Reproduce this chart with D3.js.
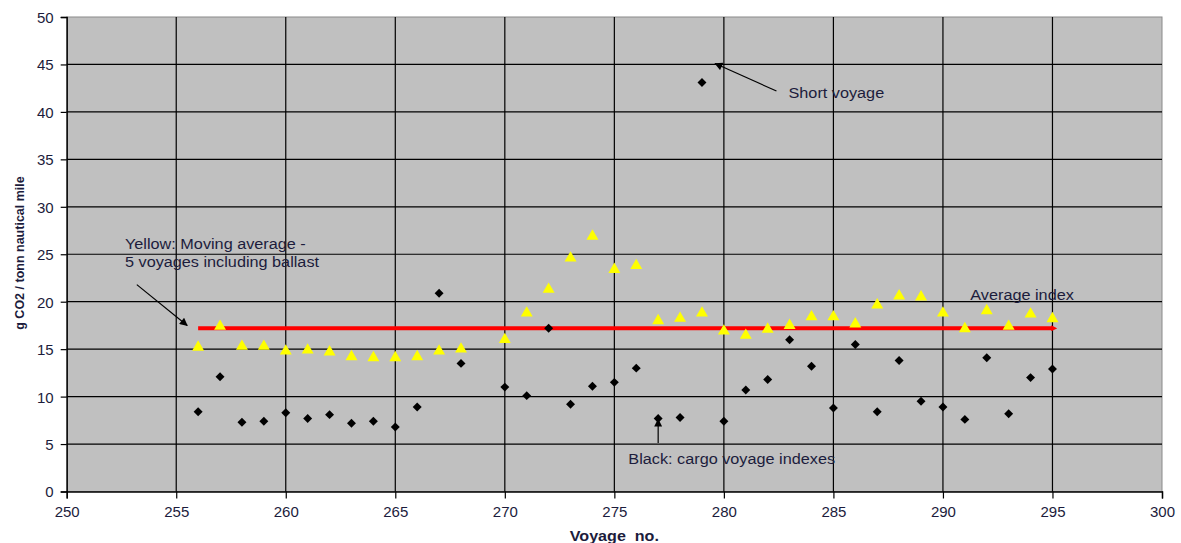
<!DOCTYPE html>
<html>
<head>
<meta charset="utf-8">
<script src="https://cdn.jsdelivr.net/npm/d3@7"></script>
<style>
  html, body { margin: 0; padding: 0; background: #fff; }
  svg { display: block; font-family: "Liberation Sans", Arial, sans-serif; }
  .tick text { fill: #1c1c3c; font-size: 15px; }
  .note { fill: #1c1c3c; font-size: 14px; }
</style>
</head>
<body>
<svg id="chart" width="1181" height="543"></svg>
<script>
// voyage numbers (269 is missing in the source)
const voyages = [256, 257, 258, 259, 260, 261, 262, 263, 264, 265, 266, 267, 268,
  270, 271, 272, 273, 274, 275, 276, 277, 278, 279, 280, 281, 282, 283, 284, 285,
  286, 287, 288, 289, 290, 291, 292, 293, 294, 295];
// black diamonds: cargo voyage indexes
const cargoIndex = [8.4, 12.1, 7.3, 7.4, 8.3, 7.7, 8.1, 7.2, 7.4, 6.8, 8.9, 20.9, 13.5,
  11.0, 10.1, 17.2, 9.2, 11.1, 11.5, 13.0, 7.7, 7.8, 43.1, 7.4, 10.7, 11.8, 16.0, 13.2, 8.8,
  15.5, 8.4, 13.8, 9.5, 8.9, 7.6, 14.1, 8.2, 12.0, 12.9];
// yellow triangles: moving average, 5 voyages incl. ballast
const movingAvg = [15.2, 17.4, 15.3, 15.3, 14.8, 14.9, 14.7, 14.2, 14.1, 14.1, 14.2, 14.8, 15.0,
  16.0, 18.8, 21.3, 24.6, 26.9, 23.4, 23.8, 18.0, 18.25, 18.8, 16.9, 16.45, 17.1, 17.5, 18.4, 18.4,
  17.65, 19.65, 20.6, 20.5, 18.8, 17.15, 19.05, 17.4, 18.7, 18.2];
const averageIndex = 17.2;
const averageSpan = [256, 295];
const xTicks = [250, 255, 260, 265, 270, 275, 280, 285, 290, 295, 300];
const yTicks = [0, 5, 10, 15, 20, 25, 30, 35, 40, 45, 50];

const svg = d3.select('#chart');
const W = 1181, H = 543;
const m = { top: 17, right: 19, bottom: 51.5, left: 66.7 };
const iw = W - m.left - m.right, ih = H - m.top - m.bottom;

const x = d3.scaleLinear().domain([250, 300]).range([0, iw]);
const y = d3.scaleLinear().domain([0, 50]).range([ih, 0]);

const defs = svg.append('defs');
defs.append('marker').attr('id', 'arrow').attr('viewBox', '0 0 10 10')
  .attr('refX', 9).attr('refY', 5).attr('markerWidth', 10).attr('markerHeight', 8)
  .attr('markerUnits', 'userSpaceOnUse').attr('orient', 'auto')
  .append('path').attr('d', 'M0,0 L10,5 L0,10 Z').attr('fill', '#000');
defs.append('marker').attr('id', 'redtip').attr('viewBox', '0 0 10 10')
  .attr('refX', 2).attr('refY', 5).attr('markerWidth', 6).attr('markerHeight', 6)
  .attr('markerUnits', 'userSpaceOnUse').attr('orient', 'auto')
  .append('path').attr('d', 'M0,0 L10,5 L0,10 Z').attr('fill', '#ff0000');

const g = svg.append('g').attr('transform', `translate(${m.left},${m.top})`);

// plot background + light frame
g.append('rect').attr('width', iw).attr('height', ih).attr('fill', '#c0c0c0')
  .attr('stroke', '#8a8a8a').attr('stroke-width', 1);

// grid
g.append('g').selectAll('line').data(xTicks.filter(d => d > 250 && d < 300)).join('line')
  .attr('x1', d => x(d)).attr('x2', d => x(d)).attr('y1', 0).attr('y2', ih)
  .attr('stroke', '#000').attr('stroke-width', 1.2);
g.append('g').selectAll('line').data(yTicks.filter(d => d > 0 && d < 50)).join('line')
  .attr('x1', 0).attr('x2', iw).attr('y1', d => y(d)).attr('y2', d => y(d))
  .attr('stroke', '#000').attr('stroke-width', 1.2);

// axes
const xAxis = g.append('g').attr('transform', `translate(0,${ih})`)
  .call(d3.axisBottom(x).tickValues(xTicks).tickSize(7).tickPadding(8));
const yAxis = g.append('g')
  .call(d3.axisLeft(y).tickValues(yTicks).tickSize(6).tickPadding(7));
[xAxis, yAxis].forEach(a => {
  a.select('.domain').attr('stroke', '#000').attr('stroke-width', 1.4);
  a.selectAll('.tick line').attr('stroke', '#000').attr('stroke-width', 1.2);
  a.selectAll('.tick text').attr('font-family', null).attr('font-size', null);
});
yAxis.selectAll('.tick text').attr('dy', '0.36em');

// average index line
g.append('line')
  .attr('x1', x(averageSpan[0])).attr('x2', x(averageSpan[1]))
  .attr('y1', y(averageIndex)).attr('y2', y(averageIndex))
  .attr('stroke', '#ff0000').attr('stroke-width', 4).attr('marker-end', 'url(#redtip)');

const pts = voyages.map((v, i) => ({ v, c: cargoIndex[i], a: movingAvg[i] }));

// yellow triangles
g.append('g').selectAll('path').data(pts).join('path')
  .attr('d', d3.symbol().type(d3.symbolTriangle).size(62))
  .attr('transform', d => `translate(${x(d.v)},${y(d.a)})`)
  .attr('fill', '#ffff00');

// black diamonds
g.append('g').selectAll('path').data(pts).join('path')
  .attr('d', d3.symbol().type(d3.symbolSquare).size(40))
  .attr('transform', d => `translate(${x(d.v)},${y(d.c)}) rotate(45)`)
  .attr('fill', '#000');

// ============== Annotations ==============
const arrows = [
  { from: [282.4, 42.2], to: [279.6, 45.1] },
  { from: [253.2, 21.8], to: [255.5, 17.5] },
  { from: [277, 5.1], to: [277, 7.6] }
];
g.append('g').selectAll('line').data(arrows).join('line')
  .attr('x1', d => x(d.from[0])).attr('y1', d => y(d.from[1]))
  .attr('x2', d => x(d.to[0])).attr('y2', d => y(d.to[1]))
  .attr('stroke', '#000').attr('stroke-width', 1.2).attr('marker-end', 'url(#arrow)');

const notes = [
  { t: 'Short voyage', at: [282.95, 41.5] },
  { t: 'Yellow: Moving average -', at: [252.66, 25.55] },
  { t: '5 voyages including ballast', at: [252.66, 23.7] },
  { t: 'Average index', at: [291.25, 20.2] },
  { t: 'Black: cargo voyage indexes', at: [275.64, 2.9] }
];
g.append('g').selectAll('g').data(notes).join('g')
  .attr('transform', d => `translate(${x(d.at[0])},${y(d.at[1])})`)
  .append('text').attr('class', 'note').attr('transform', 'scale(1.16,1)')
  .text(d => d.t);

// axis titles
svg.append('g').attr('transform', `translate(${m.left + iw / 2},541)`)
  .append('text').attr('transform', 'scale(1.15,1)').attr('text-anchor', 'middle')
  .attr('font-weight', 'bold').attr('font-size', 14).attr('fill', '#1c1c3c')
  .attr('xml:space', 'preserve').text('Voyage  no.');
svg.append('text').attr('transform', 'translate(24,253) rotate(-90)')
  .attr('text-anchor', 'middle').attr('font-weight', 'bold').attr('font-size', 12.5)
  .attr('fill', '#1c1c3c').text('g CO2 / tonn nautical mile');
</script>
</body>
</html>
